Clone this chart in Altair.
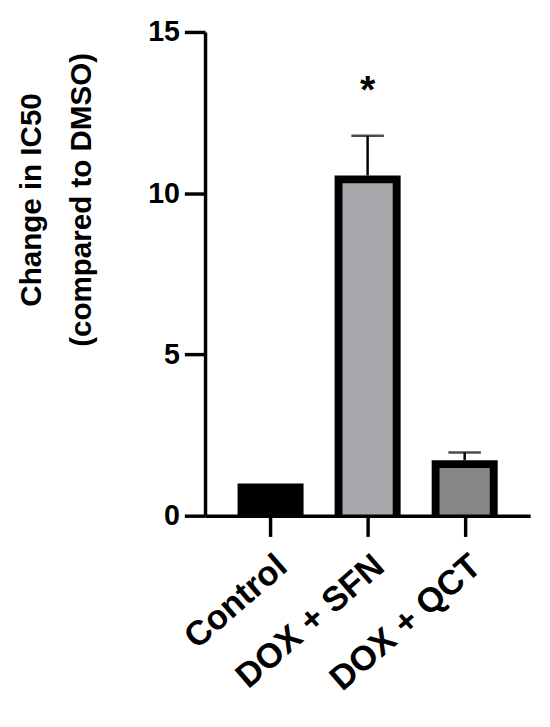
import altair as alt
import pandas as pd

groups = ["Control", "DOX + SFN", "DOX + QCT"]
means = [1.0, 10.55, 1.72]
uppers = [1.0, 11.78, 1.96]
fills = ["#000000", "#a8a8ad", "#868686"]
star_group = ["DOX + SFN"]
star_y = [13.15]
star_text = ["*"]

df = pd.DataFrame({"group": groups, "mean": means, "upper": uppers})
df_err = df[df["upper"] > df["mean"]]
df_star = pd.DataFrame({"group": star_group, "y": star_y, "t": star_text})

FONT = "Liberation Sans"

x = alt.X("group:N", sort=groups, scale=alt.Scale(type="point", padding=0.675),
          axis=alt.Axis(title=None, labelAngle=-41, labelFontSize=35, labelFont=FONT,
                        labelFontWeight="bold", labelColor="black", tickSize=21,
                        tickWidth=3.5, tickColor="black", domainColor="black",
                        domainWidth=3.5, labelPadding=12, labelLimit=500, zindex=1))
yscale = alt.Scale(domain=[0, 15], nice=False)
yaxis = alt.Axis(values=[0, 5, 10, 15], title=["Change in IC50", "(compared to DMSO)"],
                 titleFont=FONT, titleFontSize=30, titleFontWeight="bold",
                 titleColor="black", titleLineHeight=51, titleX=-176, titleY=170,
                 titleAngle=-90, titleAlign="center", titleBaseline="middle",
                 titleLimit=600,
                 labelFont=FONT, labelFontSize=29, labelFontWeight="bold",
                 labelColor="black", labelPadding=5, labelFlush=False,
                 tickSize=21, tickWidth=3.5, tickColor="black", domainColor="black",
                 domainWidth=3.5, grid=False, zindex=1)

base = alt.Chart(df)
outer = base.mark_bar(width=67, color="black").encode(
    x=x, y=alt.Y("mean:Q", scale=yscale, axis=yaxis), y2=alt.datum(0))
inner = base.mark_bar(width=51, yOffset=8).encode(
    x=x, y=alt.Y("mean:Q", scale=yscale), y2=alt.datum(0),
    color=alt.Color("group:N", scale=alt.Scale(domain=groups, range=fills), legend=None))
err = alt.Chart(df_err).mark_rule(color="black", strokeWidth=2.5).encode(
    x=x, y=alt.Y("mean:Q", scale=yscale), y2="upper:Q")
cap = alt.Chart(df_err).mark_tick(color="black", size=33, thickness=2.5).encode(
    x=x, y=alt.Y("upper:Q", scale=yscale))
star = alt.Chart(df_star).mark_text(fontSize=40, font=FONT, fontWeight="bold",
                                     baseline="middle", color="black").encode(
    x=x, y=alt.Y("y:Q", scale=yscale), text="t:N")

chart = alt.layer(outer, inner, err, cap, star).properties(
    width=330, height=491,
    background="white",
    autosize=alt.AutoSizeParams(type="none"),
    padding={"left": 200, "top": 19, "right": 12, "bottom": 200},
).configure_view(stroke=None)

chart.save("out.html", embed_options={"renderer": "svg", "actions": False})
